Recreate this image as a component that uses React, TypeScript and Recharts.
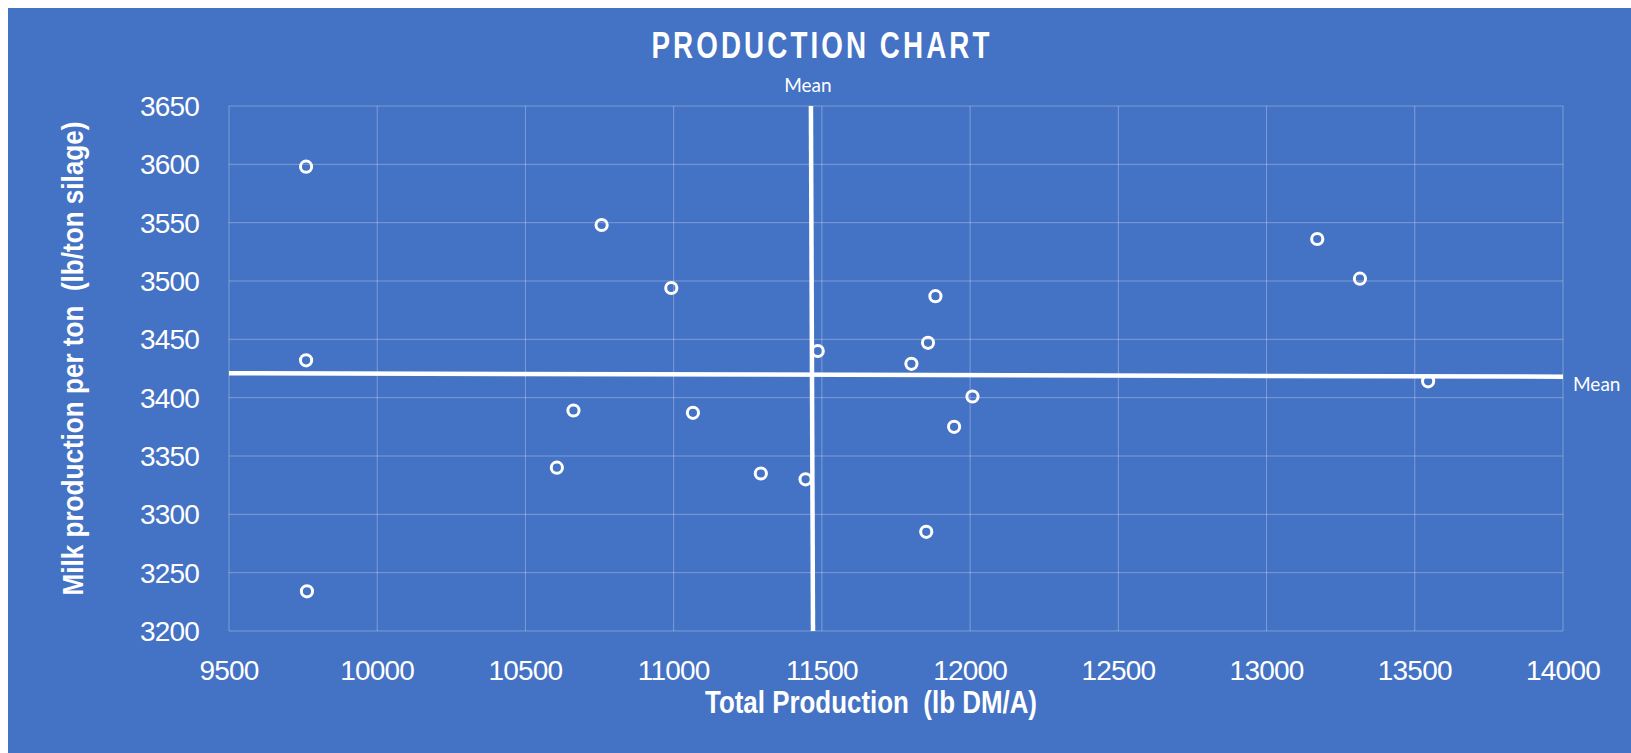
import React from "react";
import {
  ScatterChart,
  Scatter,
  XAxis,
  YAxis,
  CartesianGrid,
  ReferenceLine,
  Label,
} from "recharts";

// total production (lb DM/A) and milk per ton (lb/ton silage)
const totalProduction = [
  9760, 9760, 9763, 10757, 10992, 10662, 10606, 11065, 11294, 11445,
  11486, 11802, 11858, 11883, 12008, 11946, 11852, 13171, 13315, 13545,
];
const milkPerTon = [
  3598, 3432, 3234, 3548, 3494, 3389, 3340, 3387, 3335, 3330,
  3440, 3429, 3447, 3487, 3401, 3375, 3285, 3536, 3502, 3414,
];

const xTicks = [9500, 10000, 10500, 11000, 11500, 12000, 12500, 13000, 13500, 14000];
const yTicks = [3200, 3250, 3300, 3350, 3400, 3450, 3500, 3550, 3600, 3650];

// mean lines (drawn slightly tilted, as in the source)
const meanX = [11463, 11470];
const meanY = [3421, 3418];

const points = totalProduction.map((x, i) => ({ x, y: milkPerTon[i] }));

const BG = "#4472C4";
const SANS = "'Liberation Sans', Arial, sans-serif";
const LATO = "Lato, 'Open Sans', sans-serif";

const tickStyle = { fill: "#fff", fontSize: 28, fontFamily: SANS, letterSpacing: -0.8 };

const Ring = (props: any) => (
  <circle cx={props.cx} cy={props.cy} r={5.6} fill="none" stroke="#fff" strokeWidth={3} />
);

// no narrow font installed: squeeze Liberation Sans Bold with textLength
const xTitle = (props: any) => {
  const vb = props.viewBox;
  return (
    <text
      x={vb.x + vb.width / 2 - 25}
      y={vb.y + 82}
      textAnchor="middle"
      fill="#fff"
      fontFamily={SANS}
      fontWeight="bold"
      fontSize={32}
      textLength={332}
      lengthAdjust="spacingAndGlyphs"
      style={{ whiteSpace: "pre" }}
    >
      Total Production  (lb DM/A)
    </text>
  );
};

const yTitle = (props: any) => {
  const vb = props.viewBox;
  const cx = vb.x + 75;
  const cy = vb.y + vb.height / 2 - 10;
  return (
    <text
      x={cx}
      y={cy}
      transform={`rotate(-90 ${cx} ${cy})`}
      textAnchor="middle"
      fill="#fff"
      fontFamily={SANS}
      fontWeight="bold"
      fontSize={30}
      textLength={474}
      lengthAdjust="spacingAndGlyphs"
      style={{ whiteSpace: "pre" }}
    >
      Milk production per ton  (lb/ton silage)
    </text>
  );
};

const topMean = (props: any) => {
  const vb = props.viewBox;
  return (
    <text x={vb.x + vb.width / 2 - 4} y={vb.y - 14} textAnchor="middle" fill="#fff" fontFamily={LATO} fontSize={19}>
      Mean
    </text>
  );
};

const rightMean = (props: any) => {
  const vb = props.viewBox;
  return (
    <text x={vb.x + vb.width + 10} y={vb.y + vb.height / 2 + 16} textAnchor="start" fill="#fff" fontFamily={LATO} fontSize={19}>
      Mean
    </text>
  );
};

export default function App() {
  return (
    <div style={{ position: "absolute", left: 8, top: 8, width: 1623, height: 745, background: BG }}>
      <svg width={1623} height={80} style={{ position: "absolute", left: 0, top: 0 }}>
        <text
          x={814}
          y={50}
          textAnchor="middle"
          fill="#fff"
          fontFamily={SANS}
          fontWeight="bold"
          fontSize={36}
          letterSpacing={4}
          textLength={341}
          lengthAdjust="spacingAndGlyphs"
        >
          PRODUCTION CHART
        </text>
      </svg>
      <ScatterChart width={1623} height={745} margin={{ top: 98, right: 68, bottom: 0, left: 0 }}>
        <CartesianGrid stroke="rgba(255,255,255,0.3)" strokeWidth={1} />
        <XAxis
          type="number"
          dataKey="x"
          domain={[9500, 14000]}
          ticks={xTicks}
          height={122}
          axisLine={false}
          tickLine={false}
          tickSize={0}
          tickMargin={29}
          tick={tickStyle}
          interval={0}
        >
          <Label content={xTitle} />
        </XAxis>
        <YAxis
          type="number"
          dataKey="y"
          domain={[3200, 3650]}
          ticks={yTicks}
          width={221}
          axisLine={false}
          tickLine={false}
          tickSize={0}
          tickMargin={30}
          tick={tickStyle}
          interval={0}
        >
          <Label content={yTitle} />
        </YAxis>
        <ReferenceLine
          segment={[
            { x: xTicks[0], y: meanY[0] },
            { x: xTicks[xTicks.length - 1], y: meanY[1] },
          ]}
          stroke="#fff"
          strokeWidth={4.5}
          label={rightMean}
        />
        <ReferenceLine
          segment={[
            { x: meanX[0], y: yTicks[yTicks.length - 1] },
            { x: meanX[1], y: yTicks[0] },
          ]}
          stroke="#fff"
          strokeWidth={4.5}
          label={topMean}
        />
        <Scatter data={points} shape={Ring} isAnimationActive={false} />
      </ScatterChart>
    </div>
  );
}
